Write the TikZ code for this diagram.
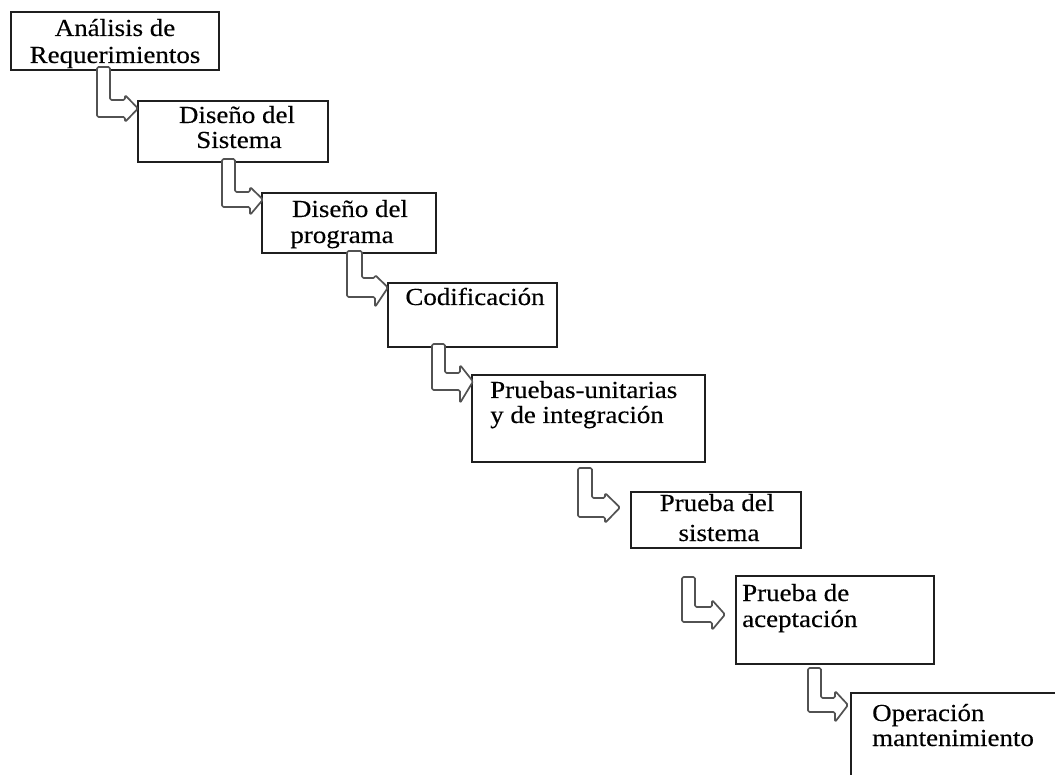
\documentclass[tikz,border=0pt]{standalone}
\usepackage{fontspec}
\setmainfont{Liberation Serif}[FakeStretch=1.1,FakeBold=0.3]
\begin{document}
\begin{tikzpicture}[x=1pt,y=-1pt,
  stage/.style={draw=black!88,line width=1.9pt,fill=white},
  lbl/.style={inner sep=0pt,font=\fontsize{24.5}{28}\selectfont,text=black},
  hollow/.style={draw=black!68,line width=1.7pt,fill=white,rounded corners=1.5pt,line join=round}]
\useasboundingbox (0,0) rectangle (1055,775);
\clip (0,0) rectangle (1055,775);
\fill[white] (0,0) rectangle (1055,775);

% hollow bent arrow: top, outer x, inner x, inner y, outer y, head base x, head top, head bottom, tip x
\newcommand\bentarrow[9]{%
  \draw[hollow] (#2,#1) -- (#2,#5) -- (#6,#5) -- (#6,#8) -- (#9,{(#4+#5)/2})
    -- (#6,#7) -- (#6,#4) -- (#3,#4) -- (#3,#1) -- cycle;}

% stages
\draw[stage] (11,12) rectangle (219,70) coordinate (b1);
\draw[stage] (138,101) rectangle (328,162) coordinate (b2);
\draw[stage] (262,193) rectangle (436,253) coordinate (b3);
\draw[stage] (388,283) rectangle (557,347) coordinate (b4);
\draw[stage] (472,375) rectangle (705,462) coordinate (b5);
\draw[stage] (631,492) rectangle (801,548) coordinate (b6);
\draw[stage] (736,576) rectangle (934,664) coordinate (b7);
\draw[stage] (851,693) rectangle (1070,790) coordinate (b8);

% arrows between consecutive stages
\bentarrow{67}{97}{110}{100}{117}{125}{95}{122}{138}
\bentarrow{159}{222}{235}{192}{207}{250}{187}{215}{263}
\bentarrow{251}{347}{362}{278}{297}{375}{275}{307}{388}
\bentarrow{344}{432}{445}{373}{390}{460}{365}{403}{473}
\bentarrow{468}{578}{592}{498}{517}{605}{493}{523}{620}
\bentarrow{577}{682}{695}{607}{622}{712}{600}{630}{725}
\bentarrow{668}{808}{821}{698}{712}{835}{691}{722}{848}

% labels
\node[lbl,anchor=base] (t1a) at (115,36) {Análisis de};
\node[lbl,anchor=base] (t1b) at (115,63) {Requerimientos};
\node[lbl,anchor=base] (t2a) at (237,123) {Diseño del};
\node[lbl,anchor=base] (t2b) at (239,148) {Sistema};
\node[lbl,anchor=base] (t3a) at (350,217) {Diseño del};
\node[lbl,anchor=base] (t3b) at (342,243) {programa};
\node[lbl,anchor=base] (t4) at (475,305) {Codificación};
\node[lbl,anchor=base west] (t5a) at (490,398) {Pruebas-unitarias};
\node[lbl,anchor=base west] (t5b) at (490,423) {y de integración};
\node[lbl,anchor=base] (t6a) at (717,511) {Prueba del};
\node[lbl,anchor=base] (t6b) at (719,541) {sistema};
\node[lbl,anchor=base west] (t7a) at (742,601) {Prueba de};
\node[lbl,anchor=base west] (t7b) at (742,627) {aceptación};
\node[lbl,anchor=base west] (t8a) at (872,721) {Operación};
\node[lbl,anchor=base west] (t8b) at (872,746) {mantenimiento};
\end{tikzpicture}
\end{document}
